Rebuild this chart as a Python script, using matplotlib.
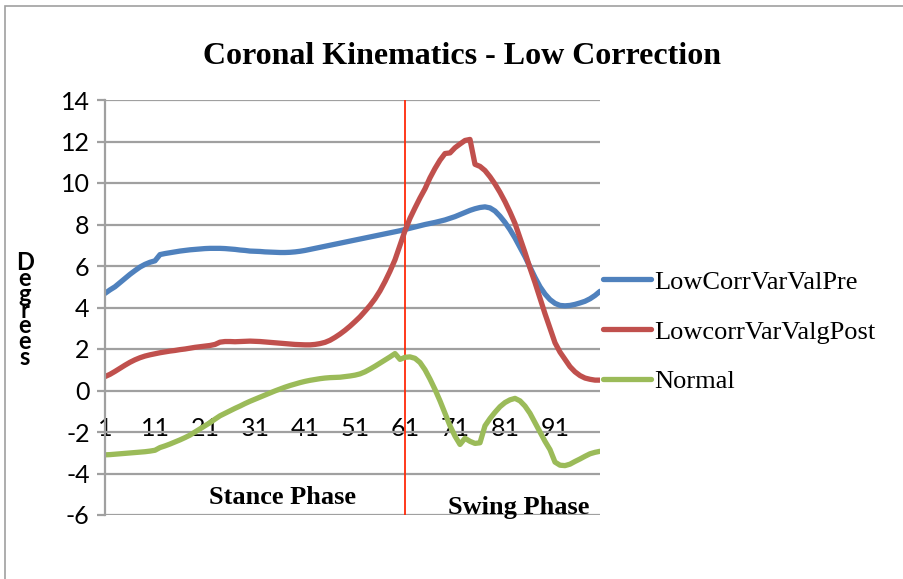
import matplotlib.pyplot as plt
from matplotlib.patches import Rectangle

plt.rcParams["axes.unicode_minus"] = False

# data (percent of gait cycle 1..100)
frames = list(range(1, 101))

low_corr_pre = [
    4.68, 4.85, 5.0, 5.2, 5.4, 5.6, 5.78, 5.95, 6.08, 6.18,
    6.25, 6.55, 6.6, 6.64, 6.68, 6.72, 6.75, 6.78, 6.8, 6.82,
    6.84, 6.85, 6.85, 6.85, 6.84, 6.82, 6.8, 6.77, 6.75, 6.72,
    6.71, 6.7, 6.68, 6.67, 6.66, 6.65, 6.65, 6.66, 6.68, 6.71,
    6.75, 6.8, 6.85, 6.9, 6.95, 7.0, 7.05, 7.1, 7.15, 7.2,
    7.25, 7.3, 7.35, 7.4, 7.45, 7.5, 7.55, 7.6, 7.65, 7.7,
    7.76, 7.82, 7.88, 7.94, 8.0, 8.05, 8.1, 8.16, 8.22, 8.3,
    8.38, 8.48, 8.58, 8.68, 8.76, 8.82, 8.85, 8.8, 8.65, 8.4,
    8.1, 7.75, 7.35, 6.9, 6.45, 5.95, 5.45, 5.0, 4.65, 4.38,
    4.2, 4.1, 4.08, 4.1, 4.15, 4.22, 4.3, 4.42, 4.58, 4.78,
]

low_corr_post = [
    0.67, 0.78, 0.92, 1.07, 1.22, 1.36, 1.48, 1.58, 1.66, 1.72,
    1.77, 1.82, 1.86, 1.9, 1.93, 1.97, 2.0, 2.04, 2.08, 2.11,
    2.14, 2.17, 2.22, 2.33, 2.36, 2.36, 2.35, 2.36, 2.37, 2.38,
    2.37, 2.36, 2.34, 2.32, 2.3, 2.28, 2.26, 2.24, 2.22, 2.21,
    2.2, 2.2, 2.22, 2.26, 2.32, 2.42, 2.56, 2.72, 2.9, 3.1,
    3.32, 3.55, 3.82, 4.1, 4.42, 4.8, 5.25, 5.75, 6.3, 7.0,
    7.7, 8.3, 8.8, 9.28, 9.72, 10.25, 10.7, 11.1, 11.42, 11.45,
    11.7, 11.88, 12.05, 12.1, 10.9, 10.8, 10.6, 10.3, 9.95, 9.55,
    9.1, 8.6, 8.05, 7.35, 6.65, 5.9, 5.2, 4.45, 3.7, 3.0,
    2.3, 1.85, 1.5, 1.15, 0.9, 0.72, 0.6, 0.54, 0.5, 0.5,
]

normal = [
    -3.1, -3.09, -3.07, -3.05, -3.03, -3.01, -2.99, -2.97, -2.95, -2.92,
    -2.88, -2.75, -2.67, -2.58, -2.48, -2.38, -2.27, -2.15, -2.0, -1.85,
    -1.7, -1.55, -1.38, -1.22, -1.1, -0.98, -0.86, -0.75, -0.63, -0.52,
    -0.42, -0.32, -0.22, -0.12, -0.02, 0.07, 0.16, 0.24, 0.31, 0.38,
    0.44, 0.49, 0.53, 0.57, 0.6, 0.62, 0.63, 0.64, 0.67, 0.7,
    0.74, 0.8, 0.9, 1.03, 1.17, 1.32, 1.47, 1.62, 1.78, 1.5,
    1.6, 1.62, 1.55, 1.35, 1.0, 0.55, 0.05, -0.5, -1.1, -1.7,
    -2.2, -2.6, -2.3, -2.45, -2.55, -2.52, -1.7, -1.35, -1.05, -0.78,
    -0.58, -0.45, -0.38, -0.5, -0.75, -1.1, -1.55, -2.0, -2.45, -2.85,
    -3.45, -3.6, -3.62, -3.55, -3.42, -3.3, -3.17, -3.05, -2.98, -2.93,
]

series_names = ["LowCorrVarValPre", "LowcorrVarValgPost", "Normal"]
series_colors = ["#4f81bd", "#c0504d", "#9bbb59"]
x_tick_labels = list(range(1, 100, 10))
y_ticks = list(range(-6, 15, 2))
phase_split = 61

fig = plt.figure(figsize=(9.04, 5.79), dpi=100)
ax = fig.add_axes([105 / 904, 1 - 515 / 579, 495 / 904, 415 / 579])

# chart frame (left + top edges visible in the crop)
fig.patches.append(Rectangle((5 / 904, -0.1), 1.2, 1.1 - 6 / 579, transform=fig.transFigure,
                             fill=False, edgecolor="#a0a0a0", lw=1.2))

ax.yaxis.grid(True, color="#a0a0a0", lw=1.6)
ax.set_axisbelow(True)

ax.axvline(phase_split, color="#ff2a0a", lw=1.3, zorder=1.5)

for vals, name, col in zip([low_corr_pre, low_corr_post, normal], series_names, series_colors):
    ax.plot(frames, vals, color=col, lw=3.8, label=name, solid_capstyle="round",
            solid_joinstyle="round")

ax.set_xlim(1, 100)
ax.set_ylim(-6, 14)
ax.set_yticks(y_ticks)
ax.set_xticks(x_tick_labels)
ax.set_xticks([1, 61], minor=True)

for s in ["top", "right"]:
    ax.spines[s].set_visible(False)
ax.spines["left"].set_color("#a0a0a0")
ax.spines["left"].set_linewidth(1.6)
ax.spines["bottom"].set_position(("data", 0))
ax.spines["bottom"].set_visible(False)

ax.tick_params(axis="y", length=6, width=1.6, color="#a0a0a0", pad=5,
               labelsize=18)
ax.tick_params(axis="x", which="major", length=0, pad=19, labelsize=18)
ax.tick_params(axis="x", which="minor", length=5, width=1.6, color="#a0a0a0")
for lab in ax.get_xticklabels() + ax.get_yticklabels():
    lab.set_fontfamily("Lato")

fig.text(0.511, 1 - 57 / 579, "Coronal Kinematics - Low Correction", ha="center", va="center",
         fontsize=23, fontweight="bold", family="Liberation Serif")

fig.text(25 / 904, 1 - 310 / 579, "\n".join("Degrees"), ha="center", va="center",
         fontsize=17, fontweight="bold", family="Lato", linespacing=0.62)

ax.text(36.5, -5.15, "Stance Phase", ha="center", va="center", fontsize=19,
        fontweight="bold", family="Liberation Serif")
ax.text(83.7, -5.65, "Swing Phase", ha="center", va="center", fontsize=19,
        fontweight="bold", family="Liberation Serif")

leg = ax.legend(loc="upper left", bbox_to_anchor=(590 / 904, 1 - 257 / 579),
                bbox_transform=fig.transFigure, frameon=False, borderpad=0,
                handlelength=1.8, handletextpad=0.12, labelspacing=1.0,
                prop={"family": "Liberation Serif", "size": 19})

fig.savefig("out.png", dpi=100)
